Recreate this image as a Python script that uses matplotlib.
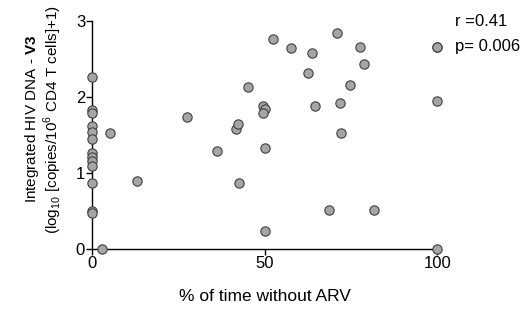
import matplotlib
matplotlib.use("Agg")
import matplotlib.pyplot as plt

plt.rcParams['font.family'] = ['Liberation Sans', 'DejaVu Sans']
plt.rcParams['mathtext.fontset'] = 'custom'
plt.rcParams['mathtext.rm'] = 'Liberation Sans'
plt.rcParams['mathtext.bf'] = 'Liberation Sans:bold'

# % of time without ARV vs integrated HIV DNA (log10)
pct_time = [0, 0, 0, 0, 0, 0, 0, 0, 0, 0, 0, 0, 0,
            3.0, 5.1, 13.0, 27.6, 36.3, 41.6, 42.2, 42.6, 45.3,
            49.4, 50.1, 49.5, 50.0, 50.0, 52.4, 57.6, 62.7, 63.6, 64.6,
            68.6, 71.1, 71.7, 72.2, 74.8, 77.7, 78.8, 81.8, 100, 100, 100]
hiv_dna = [2.26, 1.82, 1.78, 1.62, 1.53, 1.45, 1.26, 1.21, 1.15, 1.09, 0.87, 0.50, 0.47,
           0.0, 1.52, 0.89, 1.73, 1.29, 1.58, 1.64, 0.86, 2.13,
           1.88, 1.84, 1.79, 1.33, 0.24, 2.76, 2.64, 2.31, 2.57, 1.88,
           0.51, 2.84, 1.92, 1.52, 2.15, 2.66, 2.43, 0.51, 2.66, 1.95, 0.0]
r_text = "r =0.41"
p_text = "p= 0.006"

fig = plt.figure(figsize=(5.27, 3.09), dpi=100)
ax = fig.add_axes([0.1746, 0.195, 0.655, 0.738])

ax.scatter(pct_time, hiv_dna, s=45, color='#a5a5a5', edgecolor='#404040',
           linewidth=0.8, clip_on=False, zorder=3)

ax.set_xlim(0, 100)
ax.set_ylim(0, 3)
ax.set_xticks([0, 50, 100])
ax.set_yticks([0, 1, 2, 3])
for s in ['top', 'right']:
    ax.spines[s].set_visible(False)
for s in ['left', 'bottom']:
    ax.spines[s].set_linewidth(1.0)
ax.tick_params(direction='out', length=4, width=1, labelsize=12, pad=1)

ax.set_xlabel('% of time without ARV', fontsize=12.5, labelpad=13)
ax.set_ylabel('Integrated HIV DNA - $\\bf{V3}$\n(log$_{10}$ [copies/10$^{6}$ CD4 T cells]+1)',
              fontsize=11, linespacing=1.05)
ax.yaxis.set_label_coords(-0.08, 0.568)

# legend-like annotation
fig.text(455 / 527, 1 - 22 / 309, r_text, fontsize=12, va='center', ha='left')
fig.text(455 / 527, 1 - 47 / 309, p_text, fontsize=12, va='center', ha='left')
fig.lines.append(plt.Line2D([437 / 527], [1 - 47 / 309], marker='o', markersize=6.7,
                            markerfacecolor='#a5a5a5', markeredgecolor='#404040',
                            markeredgewidth=0.8, transform=fig.transFigure, figure=fig))

fig.savefig('out.png', dpi=100)
